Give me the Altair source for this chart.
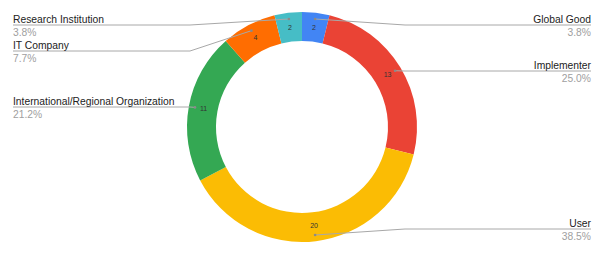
import altair as alt
import pandas as pd

# ---- data ----
categories = ["Global Good", "Implementer", "User",
              "International/Regional Organization", "IT Company", "Research Institution"]
values = [2, 13, 20, 11, 4, 2]

# ---- styling / layout ----
colors = ["#4285F4", "#EA4335", "#FBBC04", "#34A853", "#FF6D01", "#46BDC6"]
label_line_y = [25, 71, 229, 107, 51, 25]   # y of each outside label's underline
W, H = 604, 255
CX, CY = 302, 127
R_OUT, R_IN, R_DOT, R_VAL = 115, 86, 108.8, 100
ELBOW_R, ELBOW_L = 405, 190
END_R, END_L = 591, 13

df = pd.DataFrame({
    "category": categories,
    "value": values,
    "order": list(range(len(categories))),
    "ly": label_line_y,
})

base = (
    alt.Chart(df)
    .transform_joinaggregate(total="sum(value)")
    .transform_window(cum="sum(value)", sort=[alt.SortField("order")], frame=[None, 0])
    .transform_calculate(
        a=f"(datum.cum - datum.value/2)/datum.total*2*PI",
    )
    .transform_calculate(
        px=f"{CX} + {R_DOT}*sin(datum.a)",
        py=f"{CY} - {R_DOT}*cos(datum.a)",
        right="sin(datum.a) >= 0",
        pct="format(datum.value/datum.total, '.1%')",
    )
    .transform_calculate(
        ex=f"datum.right ? {ELBOW_R} : {ELBOW_L}",
        tx=f"datum.right ? {END_R} : {END_L}",
    )
)

xs = alt.Scale(domain=[0, W], range=[0, W])
ys = alt.Scale(domain=[0, H], range=[0, H])

arc = alt.Chart(df).mark_arc(
    innerRadius=R_IN, outerRadius=R_OUT, x=CX, y=CY, stroke=None
).encode(
    theta=alt.Theta("value:Q", stack=True),
    order=alt.Order("order:Q"),
    color=alt.Color("category:N", scale=alt.Scale(domain=categories, range=colors), legend=None),
)

vals = alt.Chart(df).mark_text(
    radius=R_VAL, x=CX, y=CY, fontSize=7, color="#333333", font="Liberation Sans"
).encode(
    theta=alt.Theta("value:Q", stack=True),
    order=alt.Order("order:Q"),
    text=alt.Text("value:Q"),
)

seg1 = base.mark_rule(color="#a8a8a8", strokeWidth=1).encode(
    x=alt.X("px:Q", scale=xs, axis=None),
    y=alt.Y("py:Q", scale=ys, axis=None),
    x2="ex:Q",
    y2="ly:Q",
)

seg2 = base.mark_rule(color="#a8a8a8", strokeWidth=1).encode(
    x=alt.X("ex:Q", scale=xs, axis=None),
    y=alt.Y("ly:Q", scale=ys, axis=None),
    x2="tx:Q",
)

dots = base.mark_circle(size=7, color="#8a8a8a", opacity=1).encode(
    x=alt.X("px:Q", scale=xs, axis=None),
    y=alt.Y("py:Q", scale=ys, axis=None),
)

name_r = base.transform_filter("datum.right").mark_text(
    align="right", baseline="alphabetic", dy=-2.5, fontSize=10.3,
    font="Liberation Sans", color="#222222"
).encode(
    x=alt.X("tx:Q", scale=xs, axis=None),
    y=alt.Y("ly:Q", scale=ys, axis=None),
    text="category:N",
)
name_l = base.transform_filter("!datum.right").mark_text(
    align="left", baseline="alphabetic", dy=-2.5, fontSize=10.3,
    font="Liberation Sans", color="#222222"
).encode(
    x=alt.X("tx:Q", scale=xs, axis=None),
    y=alt.Y("ly:Q", scale=ys, axis=None),
    text="category:N",
)
pct_r = base.transform_filter("datum.right").mark_text(
    align="right", baseline="alphabetic", dy=11, fontSize=10.3,
    font="Liberation Sans", color="#a0a0a0"
).encode(
    x=alt.X("tx:Q", scale=xs, axis=None),
    y=alt.Y("ly:Q", scale=ys, axis=None),
    text="pct:N",
)
pct_l = base.transform_filter("!datum.right").mark_text(
    align="left", baseline="alphabetic", dy=11, fontSize=10.3,
    font="Liberation Sans", color="#a0a0a0"
).encode(
    x=alt.X("tx:Q", scale=xs, axis=None),
    y=alt.Y("ly:Q", scale=ys, axis=None),
    text="pct:N",
)

chart = alt.layer(arc, vals, seg1, seg2, dots, name_r, name_l, pct_r, pct_l).properties(
    width=W, height=H, autosize=alt.AutoSizeParams(type="none"), padding=0,
    background="white",
).configure_view(stroke=None)

chart.save("out.html", embed_options={"renderer": "svg", "actions": False})
